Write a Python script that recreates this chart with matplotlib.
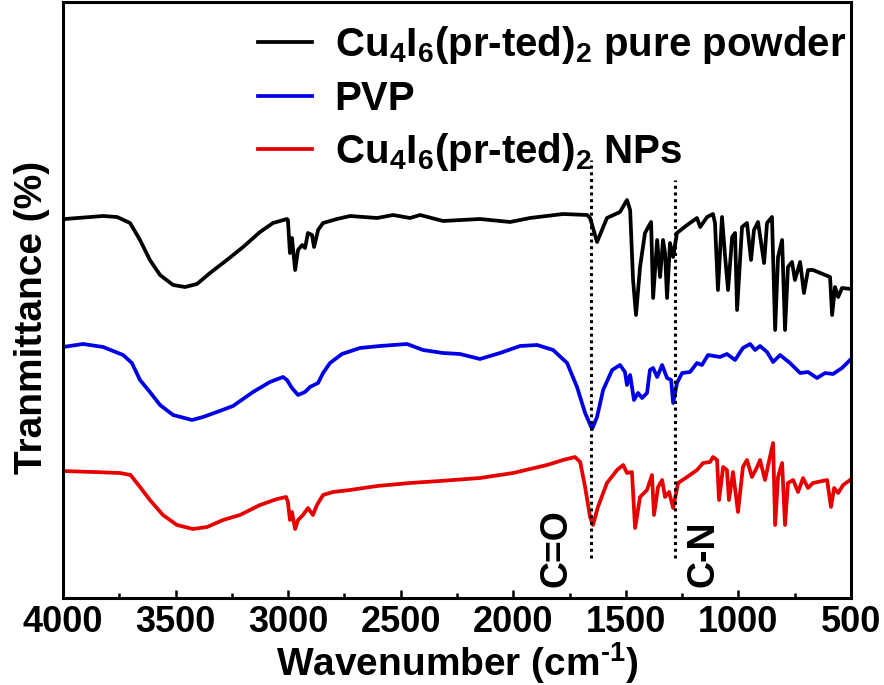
import matplotlib
matplotlib.use('Agg')
import matplotlib.pyplot as plt
from matplotlib import font_manager as fm
from matplotlib.ticker import MultipleLocator

# pick a condensed bold sans if installed
names = {f.name for f in fm.fontManager.ttflist}
face = 'Liberation Sans Narrow' if 'Liberation Sans Narrow' in names else 'Liberation Sans'
plt.rcParams['font.family'] = [face, 'DejaVu Sans']
plt.rcParams['font.weight'] = 'bold'
plt.rcParams['mathtext.fontset'] = 'custom'
plt.rcParams['mathtext.rm'] = face + ':bold'
plt.rcParams['mathtext.it'] = face + ':bold'
plt.rcParams['mathtext.bf'] = face + ':bold'
plt.rcParams['mathtext.default'] = 'rm'

# Cu4I6(pr-ted)2 pure powder
pure_wn = [3991, 3822, 3760, 3702, 3658, 3614, 3569, 3511, 3458, 3405, 3347, 3272, 3200, 3125,
           3067, 3005, 3001, 2992, 2983, 2969, 2956, 2938, 2925, 2912, 2894, 2885, 2867, 2845,
           2783, 2725, 2605, 2534, 2459, 2414, 2312, 2148, 2014, 1926, 1779, 1672, 1659, 1628,
           1606, 1584, 1526, 1495, 1481, 1468, 1455, 1437, 1415, 1388, 1379, 1361, 1348, 1335,
           1326, 1317, 1304, 1290, 1273, 1228, 1184, 1170, 1139, 1113, 1104, 1091, 1073, 1059,
           1046, 1028, 1015, 1006, 984, 962, 944, 931, 913, 886, 873, 851, 837, 824, 806, 793,
           780, 762, 749, 726, 709, 691, 669, 593, 584, 571, 557, 540, 500]
pure_t = [381, 384, 383, 377, 360, 340, 325, 315, 313, 316, 327, 340, 353, 368,
          377, 381, 380, 347, 362, 330, 350, 355, 352, 367, 365, 353, 370, 377,
          381, 384, 382, 385, 382, 385, 379, 381, 378, 382, 386, 385, 382, 358,
          370, 382, 388, 400, 390, 320, 285, 333, 367, 378, 302, 360, 323, 360,
          347, 302, 357, 343, 367, 375, 382, 373, 383, 386, 377, 310, 383, 343,
          310, 363, 367, 290, 373, 377, 340, 370, 378, 337, 377, 383, 270, 343, 360, 270,
          333, 338, 320, 338, 307, 330, 330, 323, 285, 313, 303, 312, 311]

# PVP
pvp_wn = [4000, 3911, 3822, 3733, 3694, 3658, 3614, 3569, 3511, 3427, 3378, 3316, 3245, 3156,
          3081, 3023, 3005, 2983, 2956, 2925, 2903, 2867, 2845, 2814, 2761, 2681, 2592, 2472,
          2401, 2312, 2237, 2148, 2059, 1970, 1894, 1823, 1761, 1717, 1681, 1650, 1628, 1601,
          1561, 1526, 1504, 1495, 1481, 1464, 1446, 1428, 1406, 1393, 1379, 1361, 1339, 1317,
          1299, 1290, 1273, 1250, 1215, 1184, 1162, 1135, 1082, 1051, 1015, 980, 948, 926,
          904, 873, 846, 815, 771, 726, 691, 651, 615, 580, 540, 504]
pvp_t = [253, 256, 253, 245, 237, 220, 208, 195, 185, 180, 183, 188, 194, 208,
         218, 223, 220, 212, 205, 208, 213, 217, 227, 237, 246, 252, 254, 256,
         250, 247, 246, 241, 247, 254, 255, 250, 237, 213, 187, 171, 183, 210,
         230, 235, 228, 215, 225, 200, 207, 202, 207, 230, 232, 223, 235, 222,
         220, 197, 217, 227, 228, 237, 235, 245, 243, 246, 240, 252, 256, 250,
         254, 248, 238, 245, 237, 227, 228, 222, 227, 226, 232, 240]

# Cu4I6(pr-ted)2 NPs
nps_wn = [4000, 3867, 3747, 3700, 3658, 3614, 3556, 3494, 3423, 3360, 3289, 3214, 3125, 3049,
          3009, 3001, 2992, 2983, 2969, 2956, 2934, 2912, 2890, 2872, 2845, 2801, 2725, 2605,
          2459, 2325, 2148, 2001, 1850, 1779, 1726, 1703, 1681, 1659, 1646, 1624, 1584, 1539,
          1512, 1495, 1473, 1459, 1437, 1406, 1384, 1375, 1357, 1339, 1326, 1308, 1290, 1268,
          1228, 1184, 1157, 1126, 1113, 1095, 1086, 1068, 1051, 1042, 1024, 1002, 980, 962,
          940, 917, 904, 882, 860, 846, 837, 824, 806, 793, 780, 757, 735, 713, 691, 669,
          606, 589, 575, 557, 535, 504]
nps_t = [129, 128, 127, 125, 113, 100, 85, 75, 71, 73, 80, 85, 95, 101,
         103, 98, 80, 88, 71, 80, 85, 92, 85, 95, 105, 108, 110, 114,
         117, 119, 122, 127, 135, 140, 143, 138, 113, 83, 75, 93, 117, 130,
         135, 127, 128, 72, 103, 110, 125, 85, 113, 120, 103, 108, 92, 117,
         123, 130, 137, 138, 143, 140, 100, 133, 130, 100, 128, 88, 133, 140,
         123, 133, 140, 120, 143, 157, 75, 123, 137, 75, 117, 120, 108, 122, 112, 117,
         120, 93, 112, 107, 115, 120]

names_series = [r'Cu$_4$I$_6$(pr-ted)$_2$ pure powder', 'PVP', r'Cu$_4$I$_6$(pr-ted)$_2$ NPs']
colors = ['black', '#0000e6', '#e60000']

# peak markers: (wavenumber, top of dotted line, label)
mark_wn = [1655, 1281]
mark_top = [440, 420]
mark_lbl = ['C=O', 'C-N']
mark_lbl_wn = [1806, 1157]

fig = plt.figure(figsize=(8.84, 6.85), dpi=100)
ax = fig.add_axes([63 / 884, 87 / 685, 788 / 884, 596 / 685])

for wn, t, lab, c in zip([pure_wn, pvp_wn, nps_wn], [pure_t, pvp_t, nps_t], names_series, colors):
    ax.plot(wn, t, color=c, lw=2.7, label=lab)

for w, top in zip(mark_wn, mark_top):
    ax.plot([w, w], [42, top], color='black', lw=2.2, linestyle=(0, (1, 1.2)))
for w, s in zip(mark_lbl_wn, mark_lbl):
    ax.text(w, 13, s, rotation=90, ha='center', va='bottom', fontsize=27, fontweight='bold')

ax.set_xlim(4000, 500)
ax.set_ylim(2, 598)
ax.xaxis.set_major_locator(MultipleLocator(500))
ax.xaxis.set_minor_locator(MultipleLocator(250))
ax.set_yticks([])
ax.tick_params(axis='x', which='major', direction='in', length=6, width=1.8, labelsize=26, pad=5)
ax.tick_params(axis='x', which='minor', direction='in', length=3.5, width=1.8)
for sp in ax.spines.values():
    sp.set_linewidth(2.2)

ax.set_xlabel('Wavenumber (cm$^{\\text{-}1}$)', fontsize=28, fontweight='bold', labelpad=0)
ax.set_ylabel('Tranmittance (%)', fontsize=28, fontweight='bold')
ax.yaxis.set_label_coords(-0.016, 0.47)

leg = ax.legend(loc='upper left', bbox_to_anchor=(258 / 884, 1 - 24 / 685),
                bbox_transform=fig.transFigure, frameon=False, fontsize=29,
                borderpad=0, borderaxespad=0, handlelength=1.35, handletextpad=0.55,
                labelspacing=0.34)
for t in leg.get_texts():
    t.set_fontweight('bold')

fig.savefig('out.png', dpi=100)
